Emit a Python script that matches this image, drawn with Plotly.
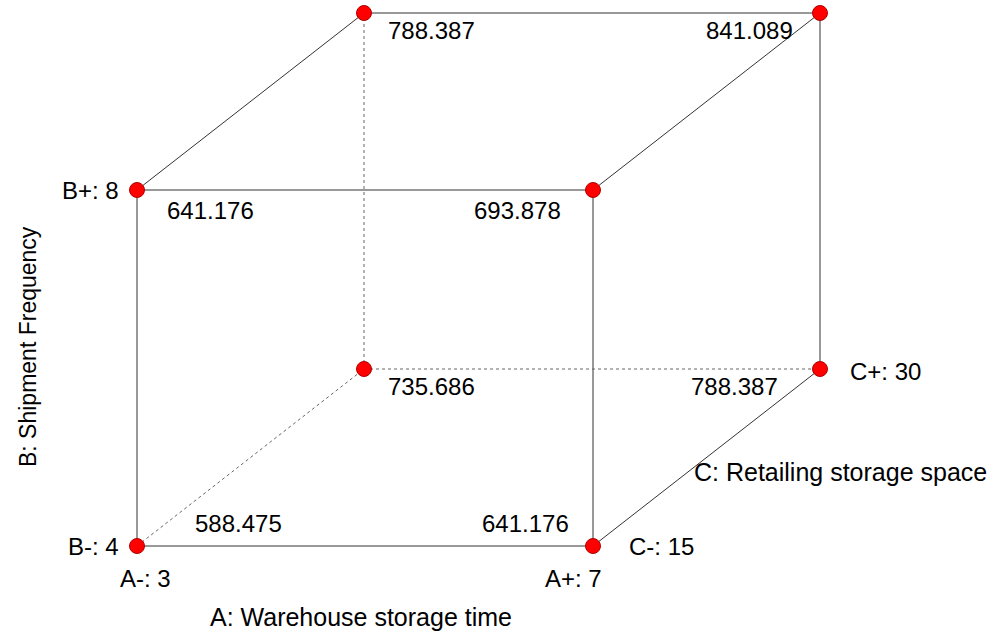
import plotly.graph_objects as go

# 2^3 factorial design: coded levels of the three factors and mean response
A_level = [-1, 1, -1, 1, -1, 1, -1, 1]
B_level = [-1, -1, 1, 1, -1, -1, 1, 1]
C_level = [-1, -1, -1, -1, 1, 1, 1, 1]
response = [588.475, 641.176, 641.176, 693.878, 735.686, 788.387, 788.387, 841.089]

A_name, A_low, A_high = "A: Warehouse storage time", 3, 7
B_name, B_low, B_high = "B: Shipment Frequency", 4, 8
C_name, C_low, C_high = "C: Retailing storage space", 15, 30

# oblique projection of the cube onto the page (pixel-like axis units)
ORIGIN = (137, 546)
WIDTH, HEIGHT = 456, 356
DEPTH = (227, -177)


def project(a, b, c):
    x = ORIGIN[0] + (a + 1) / 2 * WIDTH + (c + 1) / 2 * DEPTH[0]
    y = ORIGIN[1] - (b + 1) / 2 * HEIGHT + (c + 1) / 2 * DEPTH[1]
    return x, y


pts = [project(a, b, c) for a, b, c in zip(A_level, B_level, C_level)]
idx = {(a, b, c): i for i, (a, b, c) in enumerate(zip(A_level, B_level, C_level))}

fig = go.Figure()

# cube edges: those touching the hidden back-bottom-left corner are dotted
hidden = (-1, -1, 1)
edges = []
for key in idx:
    for axis in range(3):
        if key[axis] == -1:
            other = list(key)
            other[axis] = 1
            edges.append((key, tuple(other)))

for p, q in edges:
    (x0, y0), (x1, y1) = pts[idx[p]], pts[idx[q]]
    dotted = hidden in (p, q)
    fig.add_trace(go.Scatter(
        x=[x0, x1], y=[y0, y1], mode="lines",
        line=dict(color="#666666" if dotted else "#333333",
                  width=1, dash="dot" if dotted else "solid"),
        hoverinfo="skip", showlegend=False))

fig.add_trace(go.Scatter(
    x=[p[0] for p in pts], y=[p[1] for p in pts], mode="markers",
    marker=dict(color="#ff0000", size=15, line=dict(color="#b00000", width=1)),
    text=[f"{v:.3f}" for v in response], hoverinfo="text", showlegend=False))

FONT = dict(family="Liberation Sans, Arial, sans-serif", size=24, color="#000000")
NAME_FONT = dict(FONT, size=25)

# response value labels next to each corner
for i, v in enumerate(response):
    a, b, c = A_level[i], B_level[i], C_level[i]
    x, y = pts[i]
    front_bottom = (b == -1 and c == -1)
    if a == -1:
        xanchor = "left"
        xshift = 56 if front_bottom else (28 if c == -1 else 22)
    else:
        xanchor = "right"
        xshift = -22 if front_bottom else (-30 if c == -1 else (-25 if b == 1 else -40))
    yshift = 23 if front_bottom else (-20 if c == -1 else -17)
    fig.add_annotation(x=x, y=y, text=f"{v:.3f}", showarrow=False,
                       xanchor=xanchor, yanchor="middle",
                       xshift=xshift, yshift=yshift, font=FONT)

# factor level labels
bl = pts[idx[(-1, -1, -1)]]
br = pts[idx[(1, -1, -1)]]
tl = pts[idx[(-1, 1, -1)]]
bbr = pts[idx[(1, -1, 1)]]
level_labels = [
    (bl, f"B-: {B_low}", "right", "middle", -16, 0),
    (bl, f"A-: {A_low}", "center", "middle", 8, -32),
    (br, f"A+: {A_high}", "center", "middle", -20, -32),
    (br, f"C-: {C_low}", "left", "middle", 34, 0),
    (tl, f"B+: {B_high}", "right", "middle", -16, 0),
    (bbr, f"C+: {C_high}", "left", "middle", 28, -2),
]
for (x, y), t, xa, ya, xs, ys in level_labels:
    fig.add_annotation(x=x, y=y, text=t, showarrow=False, xanchor=xa,
                       yanchor=ya, xshift=xs, yshift=ys, font=FONT)

# factor names
fig.add_annotation(x=(bl[0] + br[0]) / 2, y=617, text=A_name, showarrow=False,
                   xanchor="center", yanchor="middle", xshift=-4, font=NAME_FONT)
fig.add_annotation(x=28, y=347, text=B_name, showarrow=False,
                   textangle=-90, xanchor="center", yanchor="middle",
                   font=dict(FONT, size=23))
fig.add_annotation(x=692, y=472, text=C_name, showarrow=False,
                   xanchor="left", yanchor="middle", font=NAME_FONT)

fig.update_layout(
    width=987, height=635,
    margin=dict(l=0, r=0, t=0, b=0),
    paper_bgcolor="white", plot_bgcolor="white",
    xaxis=dict(range=[0, 987], visible=False, fixedrange=True),
    yaxis=dict(range=[635, 0], visible=False, fixedrange=True),
)

fig.write_html("out.html")
